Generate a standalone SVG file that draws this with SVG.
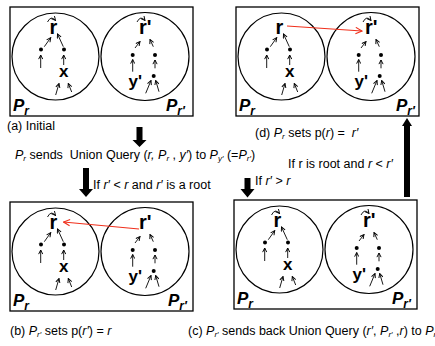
<svg xmlns="http://www.w3.org/2000/svg" width="435" height="346" viewBox="0 0 435 346">
<style>
.box{fill:#fff;stroke:#000;stroke-width:1.3}
.cir{fill:none;stroke:#000;stroke-width:1.2}
.sm{fill:none;stroke:#000;stroke-width:0.9;marker-end:url(#ah)}
.lp{fill:none;stroke:#000;stroke-width:0.9;marker-end:url(#ah)}
.dot{fill:#000}
.lbl{font-family:"Liberation Sans",Arial,sans-serif;font-weight:bold;fill:#000}
.big{font-size:20px}
.mid{font-size:17px}
.P{font-family:"Liberation Sans",Arial,sans-serif;font-weight:bold;font-style:italic;font-size:17px}
.cap{font-family:"Liberation Sans",Arial,sans-serif;font-size:12.5px;fill:#000}
.red{fill:none;stroke:#f0301c;stroke-width:1.2;marker-end:url(#rh)}
.thick{fill:#000}
</style>
<defs>
<marker id="ah" viewBox="0 0 8 8" refX="7" refY="4" markerWidth="5.5" markerHeight="5.5" markerUnits="userSpaceOnUse" orient="auto">
<path d="M1,1 L7,4 L1,7" fill="none" stroke="#000" stroke-width="1.4"/>
</marker>
<marker id="rh" viewBox="0 0 10 10" refX="9" refY="5" markerWidth="8" markerHeight="8" markerUnits="userSpaceOnUse" orient="auto">
<path d="M1,1 L9,5 L1,9" fill="none" stroke="#f0301c" stroke-width="1.4"/>
</marker>
</defs>

<!-- Panel boxes -->
<g id="panel-a"><rect class="box" x="10" y="7" width="183" height="109"/></g>
<g id="panel-d"><rect class="box" x="236" y="7" width="183" height="109"/></g>
<g id="panel-b"><rect class="box" x="10" y="202" width="183" height="109"/></g>
<g id="panel-c"><rect class="box" x="234" y="200" width="183" height="109"/></g>

<!-- Panel (a) -->
<g id="a-left">
<circle class="cir" cx="55.5" cy="56.5" r="43.5"/>
<text class="lbl big" x="53.5" y="34" text-anchor="middle">r</text>
<path class="lp" d="M47.5,22 Q51,15 55.5,20.5"/>
<circle class="dot" cx="41" cy="49.5" r="2"/><circle class="dot" cx="64" cy="49.5" r="2"/>
<path class="sm" d="M44.3,46.7 L50.7,37.7"/><path class="sm" d="M63.3,46.7 L57.5,34"/>
<path class="sm" d="M40.7,68 L40.7,55"/><path class="sm" d="M63.7,65 L63.7,55"/>
<text class="lbl mid" x="63.7" y="76.5" text-anchor="middle">x</text>
<path class="sm" d="M55.7,95 L59,83.5"/><path class="sm" d="M71.7,92 L68.3,83.5"/>
<text class="P" x="13" y="111">P<tspan font-size="12" dy="3.5">r</tspan></text>
</g>
<g id="a-right">
<circle class="cir" cx="145" cy="56.5" r="44"/>
<text class="lbl big" x="139" y="34">r'</text>
<path class="lp" d="M137,22 Q140.5,15 145,20.5"/>
<circle class="dot" cx="132.7" cy="55" r="2"/><circle class="dot" cx="155" cy="55" r="2"/>
<path class="sm" d="M135,48 L140,41.5"/><path class="sm" d="M153.3,46.7 L150,39.5"/>
<path class="sm" d="M132.7,71.7 L132.7,59.5"/><path class="sm" d="M155,68.3 L155,60"/>
<text class="lbl mid" x="128.5" y="87">y'</text>
<circle class="dot" cx="153.7" cy="76" r="2"/>
<path class="sm" d="M145.7,93.3 L151,80.5"/><path class="sm" d="M159,91.7 L155.7,80.5"/>
<text class="P" x="166" y="111">P<tspan font-size="12" dy="3.5">r′</tspan></text>
</g>

<!-- Panel (d) -->
<g id="d-left" transform="translate(226,0)">
<circle class="cir" cx="55.5" cy="56.5" r="43.5"/>
<text class="lbl big" x="53.5" y="34" text-anchor="middle">r</text>
<circle class="dot" cx="41" cy="49.5" r="2"/><circle class="dot" cx="64" cy="49.5" r="2"/>
<path class="sm" d="M44.3,46.7 L50.7,37.7"/><path class="sm" d="M63.3,46.7 L57.5,34"/>
<path class="sm" d="M40.7,68 L40.7,55"/><path class="sm" d="M63.7,65 L63.7,55"/>
<text class="lbl mid" x="63.7" y="76.5" text-anchor="middle">x</text>
<path class="sm" d="M55.7,95 L59,83.5"/><path class="sm" d="M71.7,92 L68.3,83.5"/>
<text class="P" x="13" y="111">P<tspan font-size="12" dy="3.5">r</tspan></text>
</g>
<g id="d-right" transform="translate(226,0)">
<circle class="cir" cx="145" cy="56.5" r="44"/>
<text class="lbl big" x="139" y="34">r'</text>
<path class="lp" d="M137,22 Q140.5,15 145,20.5"/>
<circle class="dot" cx="132.7" cy="55" r="2"/><circle class="dot" cx="155" cy="55" r="2"/>
<path class="sm" d="M135,48 L140,41.5"/><path class="sm" d="M153.3,46.7 L150,39.5"/>
<path class="sm" d="M132.7,71.7 L132.7,59.5"/><path class="sm" d="M155,68.3 L155,60"/>
<text class="lbl mid" x="128.5" y="87">y'</text>
<circle class="dot" cx="153.7" cy="76" r="2"/>
<path class="sm" d="M145.7,93.3 L151,80.5"/><path class="sm" d="M159,91.7 L155.7,80.5"/>
<text class="P" x="170" y="111">P<tspan font-size="12" dy="3.5">r′</tspan></text>
</g>

<!-- Panel (b) -->
<g id="b-left" transform="translate(0,195)">
<circle class="cir" cx="55.5" cy="56.5" r="43.5"/>
<text class="lbl big" x="53.5" y="34" text-anchor="middle">r</text>
<path class="lp" d="M47.5,22 Q51,15 55.5,20.5"/>
<circle class="dot" cx="41" cy="49.5" r="2"/><circle class="dot" cx="64" cy="49.5" r="2"/>
<path class="sm" d="M44.3,46.7 L50.7,37.7"/><path class="sm" d="M63.3,46.7 L57.5,34"/>
<path class="sm" d="M40.7,68 L40.7,55"/><path class="sm" d="M63.7,65 L63.7,55"/>
<text class="lbl mid" x="63.7" y="76.5" text-anchor="middle">x</text>
<path class="sm" d="M55.7,95 L59,83.5"/><path class="sm" d="M71.7,92 L68.3,83.5"/>
<text class="P" x="13" y="111">P<tspan font-size="12" dy="3.5">r</tspan></text>
</g>
<g id="b-right" transform="translate(0,195)">
<circle class="cir" cx="145" cy="56.5" r="44"/>
<text class="lbl big" x="139" y="34">r'</text>
<circle class="dot" cx="132.7" cy="55" r="2"/><circle class="dot" cx="155" cy="55" r="2"/>
<path class="sm" d="M135,48 L140,41.5"/><path class="sm" d="M153.3,46.7 L150,39.5"/>
<path class="sm" d="M132.7,71.7 L132.7,59.5"/><path class="sm" d="M155,68.3 L155,60"/>
<text class="lbl mid" x="128.5" y="87">y'</text>
<circle class="dot" cx="153.7" cy="76" r="2"/>
<path class="sm" d="M145.7,93.3 L151,80.5"/><path class="sm" d="M159,91.7 L155.7,80.5"/>
<text class="P" x="168" y="111">P<tspan font-size="12" dy="3.5">r′</tspan></text>
</g>

<!-- Panel (c) -->
<g id="c-left" transform="translate(224,193)">
<circle class="cir" cx="55.5" cy="56.5" r="43.5"/>
<text class="lbl big" x="53.5" y="34" text-anchor="middle">r</text>
<path class="lp" d="M47.5,22 Q51,15 55.5,20.5"/>
<circle class="dot" cx="41" cy="49.5" r="2"/><circle class="dot" cx="64" cy="49.5" r="2"/>
<path class="sm" d="M44.3,46.7 L50.7,37.7"/><path class="sm" d="M63.3,46.7 L57.5,34"/>
<path class="sm" d="M40.7,68 L40.7,55"/><path class="sm" d="M63.7,65 L63.7,55"/>
<text class="lbl mid" x="63.7" y="76.5" text-anchor="middle">x</text>
<path class="sm" d="M55.7,95 L59,83.5"/><path class="sm" d="M71.7,92 L68.3,83.5"/>
<text class="P" x="13" y="111">P<tspan font-size="12" dy="3.5">r</tspan></text>
</g>
<g id="c-right" transform="translate(224,193)">
<circle class="cir" cx="145" cy="56.5" r="44"/>
<text class="lbl big" x="139" y="34">r'</text>
<path class="lp" d="M137,22 Q140.5,15 145,20.5"/>
<circle class="dot" cx="132.7" cy="55" r="2"/><circle class="dot" cx="155" cy="55" r="2"/>
<path class="sm" d="M135,48 L140,41.5"/><path class="sm" d="M153.3,46.7 L150,39.5"/>
<path class="sm" d="M132.7,71.7 L132.7,59.5"/><path class="sm" d="M155,68.3 L155,60"/>
<text class="lbl mid" x="128.5" y="87">y'</text>
<circle class="dot" cx="153.7" cy="76" r="2"/>
<path class="sm" d="M145.7,93.3 L151,80.5"/><path class="sm" d="M159,91.7 L155.7,80.5"/>
<text class="P" x="168" y="111">P<tspan font-size="12" dy="3.5">r′</tspan></text>
</g>

<!-- Connectors -->
<g id="connectors">
<path class="thick" d="M136.5,127 H142.5 V140 H146.5 L139.5,147 L132.5,140 H136.5 Z"/>
<path class="thick" d="M83,168 H89 V189 H93 L86,197 L79,189 H83 Z"/>
<path class="thick" d="M244.5,178 H250.5 V189 H254.5 L247.5,197.5 L240.5,189 H244.5 Z"/>
<path class="thick" d="M404,197 H410 V126 H412 L407,118 L402,126 H404 Z"/>
<path class="red" d="M287,26 L362,31"/>
<path class="red" d="M139,229 L63.5,222"/>
</g>

<!-- Captions -->
<g id="captions">
<text class="cap" x="7" y="130">(a) Initial</text>
<text class="cap" x="15" y="159" xml:space="preserve"><tspan font-style="italic">P</tspan><tspan font-style="italic" font-size="8" dy="2">r</tspan><tspan dy="-2"> sends  Union Query (</tspan><tspan font-style="italic">r, P</tspan><tspan font-style="italic" font-size="8" dy="2">r</tspan><tspan dy="-2"> , </tspan><tspan font-style="italic">y′</tspan>) to <tspan font-style="italic">P</tspan><tspan font-style="italic" font-size="8" dy="2">y′</tspan><tspan dy="-2"> (=</tspan><tspan font-style="italic">P</tspan><tspan font-style="italic" font-size="8" dy="2">r′</tspan><tspan dy="-2">)</tspan></text>
<text class="cap" x="255" y="137" xml:space="preserve">(d) <tspan font-style="italic">P</tspan><tspan font-style="italic" font-size="8" dy="2">r</tspan><tspan dy="-2"> sets p(</tspan><tspan font-style="italic">r</tspan>) =  <tspan font-style="italic">r′</tspan></text>
<text class="cap" x="288" y="168">If r is root and <tspan font-style="italic">r</tspan> &lt; <tspan font-style="italic">r′</tspan></text>
<text class="cap" x="93" y="189">If <tspan font-style="italic">r′</tspan> &lt; <tspan font-style="italic">r</tspan> and <tspan font-style="italic">r′</tspan> is a root</text>
<text class="cap" x="255" y="185">If <tspan font-style="italic">r′</tspan> &gt; <tspan font-style="italic">r</tspan></text>
<text class="cap" x="10" y="335">(b) <tspan font-style="italic">P</tspan><tspan font-style="italic" font-size="8" dy="2">r′</tspan><tspan dy="-2"> sets p(</tspan><tspan font-style="italic">r′</tspan>) = <tspan font-style="italic">r</tspan></text>
<text class="cap" x="188" y="335">(c) <tspan font-style="italic">P</tspan><tspan font-style="italic" font-size="8" dy="2">r′</tspan><tspan dy="-2"> sends back Union Query (</tspan><tspan font-style="italic">r′</tspan>, <tspan font-style="italic">P</tspan><tspan font-style="italic" font-size="8" dy="2">r′</tspan><tspan dy="-2"> ,</tspan><tspan font-style="italic">r</tspan>) to <tspan font-style="italic">P</tspan><tspan font-style="italic" font-size="8" dy="2">r</tspan></text>
</g>
</svg>
